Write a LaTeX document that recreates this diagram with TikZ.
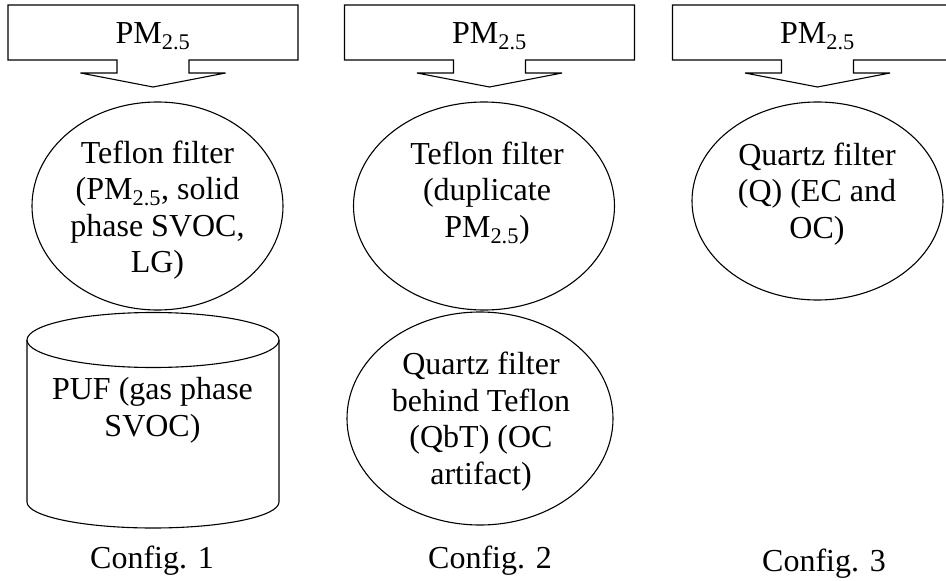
\documentclass[tikz,border=0pt]{standalone}
\usepackage{fontspec}
\setmainfont{Liberation Serif}
\usepackage{tikz}
\usetikzlibrary{shapes.geometric}

\begin{document}
\begin{tikzpicture}[
    x=1pt, y=-1pt,
    ln/.style={draw, line width=1.1pt},
    filt/.style={ellipse, ln, inner sep=0pt},
    txt/.style={font=\fontsize{32}{36.5}\selectfont, align=center, inner sep=0pt},
    inlet/.pic={
        \draw[ln] (-145,-27.5) -- (145,-27.5) -- (145,27.5) -- (36,27.5) -- (36,40.5)
            -- (72.5,40.5) -- (0,54.5) -- (-72.5,40.5) -- (-36,40.5) -- (-36,27.5)
            -- (-145,27.5) -- cycle;
        \node[txt] (-pm) at (0,4) {PM\textsubscript{2.5}};
    }
]
\useasboundingbox (0,0) rectangle (946,581);
\clip (0,0) rectangle (946,581);

% inlets
\pic (in1) at (153,32.5) {inlet};
\pic (in2) at (489.5,32.5) {inlet};
\pic (in3) at (817.5,32.5) {inlet};

% config 1
\node[filt, minimum width=251pt, minimum height=208pt] (tef1) at (157.5,206) {};
\node[txt] (tef1-t) at (157.5,210) {Teflon filter\\(PM\textsubscript{2.5}, solid\\phase SVOC,\\LG)};
% PUF cartridge
\draw[ln] (27,340) -- (27,502) arc[start angle=180, end angle=0, x radius=126, y radius=26] -- (279,340);
\draw[ln] (153,340) ellipse [x radius=126, y radius=27.5];
\node[txt] (puf) at (152.5,410.5) {PUF (gas phase\\SVOC)};

% config 2
\node[filt, minimum width=261pt, minimum height=208pt] (tef2) at (484,206) {};
\node[txt] (tef2-t) at (487,193) {Teflon filter\\(duplicate\\PM\textsubscript{2.5})};
\node[filt, minimum width=266pt, minimum height=213pt] (qbt) at (480,418.5) {};
\node[txt] (qbt-t) at (481,421.5) {Quartz filter\\behind Teflon\\(QbT) (OC\\artifact)};

% config 3
\node[filt, minimum width=251pt, minimum height=198pt] (qz) at (817.5,201) {};
\node[txt] (qz-t) at (817,194) {Quartz filter\\(Q) (EC and\\OC)};

\node[txt] (cfg1) at (152,561) {Config. 1};
\node[txt] (cfg2) at (490,561) {Config. 2};
\node[txt] (cfg3) at (824,564) {Config. 3};
\end{tikzpicture}
\end{document}
